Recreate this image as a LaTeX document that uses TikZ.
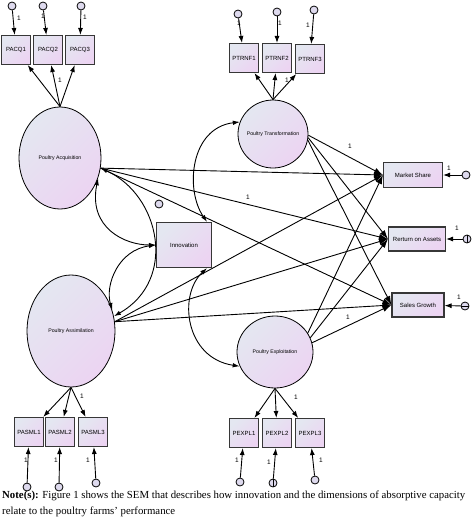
\documentclass[tikz,border=0pt]{standalone}
\usepackage{fontspec}
\setmainfont{Liberation Serif}
\newfontfamily\semfont{Liberation Sans}
\usepackage{tikz}
\usetikzlibrary{arrows.meta,shapes.geometric,positioning}
\definecolor{semtop}{RGB}{228,231,241}
\definecolor{sembot}{RGB}{236,212,242}
\definecolor{errfill}{RGB}{222,218,238}
\definecolor{boxline}{RGB}{55,55,55}

\begin{document}
\begin{tikzpicture}[x=1pt,y=-1pt]
\tikzset{
    latent/.style={
       ellipse, draw=black, line width=0.8pt,
       top color=semtop, bottom color=sembot, shading angle=45,
       inner sep=0pt
    },
    latlabel/.style={font=\semfont\fontsize{5.2}{6}\selectfont, inner sep=0pt},
    observed/.style={
       rectangle, draw=boxline, line width=1.1pt,
       top color=semtop, bottom color=sembot, shading angle=45,
       inner sep=0pt, font=\semfont\fontsize{6}{7}\selectfont
    },
    indic/.style={observed, minimum width=29pt, minimum height=29pt},
    errc/.style={circle, draw=black, line width=0.8pt, fill=errfill,
       minimum size=8pt, inner sep=0pt},
    one/.style={font=\semfont\fontsize{6.5}{7}\selectfont, inner sep=0pt},
    reg/.style={line width=0.9pt, -{Latex[length=7pt,width=5pt]}},
    bigreg/.style={line width=0.9pt, -{Latex[length=9pt,width=6pt]}},
    cov/.style={line width=0.9pt, {Latex[length=7pt,width=4.5pt]}-{Latex[length=7pt,width=4.5pt]}}
}
\useasboundingbox (0,0) rectangle (474,523);
%
% acquisition block
\node[errc] (ea1) at (12,6) {};
\node[errc] (ea2) at (43,6) {};
\node[errc] (ea3) at (81,6) {};
\node[indic] (pacq1) at (16,50) {PACQ1};
\node[indic] (pacq2) at (48,50) {PACQ2};
\node[indic] (pacq3) at (80,50) {PACQ3};
\node[latent, minimum width=82pt, minimum height=102pt,
      label={[latlabel]center:Poultry Acquisition}] (acq) at (60,158) {};

% assimilation block
\node[latent, minimum width=88pt, minimum height=112pt,
      label={[latlabel]center:Poultry Assimilation}] (asm) at (71,331) {};
\node[indic] (pasml1) at (29,432) {PASML1};
\node[indic] (pasml2) at (60,432) {PASML2};
\node[indic] (pasml3) at (93,432) {PASML3};
\node[errc] (es1) at (27,487) {};
\node[errc] (es2) at (59,487) {};
\node[errc] (es3) at (96,483) {};

% transformation block
\node[errc] (et1) at (238,14) {};
\node[errc] (et2) at (277,12) {};
\node[errc] (et3) at (314,10) {};
\node[indic] (ptrnf1) at (244,58) {PTRNF1};
\node[indic] (ptrnf2) at (277,58) {PTRNF2};
\node[indic] (ptrnf3) at (310,59) {PTRNF3};
\node[latent, minimum width=70pt, minimum height=68pt,
      label={[latlabel]center:Poultry Transformation}] (trn) at (273,134) {};

% exploitation block
\node[latent, minimum width=76pt, minimum height=72pt,
      label={[latlabel]center:Poultry Exploitation}] (expl) at (275,352) {};
\node[indic] (pexpl1) at (244,433) {PEXPL1};
\node[indic] (pexpl2) at (277,433) {PEXPL2};
\node[indic] (pexpl3) at (310,433) {PEXPL3};
\node[errc] (ee1) at (240,482) {};
\node[errc] (ee2) at (273,483) {};
\node[errc] (ee3) at (315,480) {};

% innovation
\node[observed, minimum width=55pt, minimum height=45pt] (inno) at (184,245) {Innovation};
\node[errc] (ei) at (159,204) {};

% performance
\node[observed, minimum width=59pt, minimum height=25pt] (ms) at (413,175) {Market Share};
\node[observed, minimum width=57pt, minimum height=24pt] (roa) at (417,239) {Rerturn on Assets};
\node[observed, minimum width=52pt, minimum height=24pt] (sg) at (418,305) {Sales Growth};
\node[errc] (ems) at (466,175) {};
\node[errc] (eroa) at (467,239) {};
\node[errc] (esg) at (465,306) {};
\draw[line width=0.7pt] (eroa.north) -- (eroa.south);
\draw[line width=0.7pt] (esg.west) -- (esg.east);
\draw[line width=0.7pt] (ee2.north) -- (ee2.south);

% measurement arrows
\draw[reg] (ea1) -- (pacq1);
\draw[reg] (ea2) -- (pacq2);
\draw[reg] (ea3) -- (pacq3);
\draw[reg] (acq.north) -- (pacq1);
\draw[reg] (acq.north) -- (pacq2);
\draw[reg] (acq.north) -- (pacq3);
\draw[reg] (asm.south) -- (pasml1);
\draw[reg] (asm.south) -- (pasml2);
\draw[reg] (asm.south) -- (pasml3);
\draw[reg] (es1) -- (pasml1);
\draw[reg] (es2) -- (pasml2);
\draw[reg] (es3) -- (pasml3);
\draw[reg] (et1) -- (ptrnf1);
\draw[reg] (et2) -- (ptrnf2);
\draw[reg] (et3) -- (ptrnf3);
\draw[reg] (trn.north) -- (ptrnf1);
\draw[reg] (trn.north) -- (ptrnf2);
\draw[reg] (trn.north) -- (ptrnf3);
\draw[reg] (expl.south) -- (pexpl1);
\draw[reg] (expl.south) -- (pexpl2);
\draw[reg] (expl.south) -- (pexpl3);
\draw[reg] (ee1) -- (pexpl1);
\draw[reg] (ee2) -- (pexpl2);
\draw[reg] (ee3) -- (pexpl3);
\draw[reg] (ems) -- (ms);
\draw[reg] (eroa) -- (roa);
\draw[reg] (esg) -- (sg);

% structural paths
\draw[bigreg] (acq.-14) -- (ms.west);
\draw[bigreg] (acq.-14) -- (roa.west);
\draw[bigreg] (acq.-14) -- (sg.west);
\draw[bigreg] (asm.12) -- (ms.west);
\draw[bigreg] (asm.12) -- (roa.west);
\draw[bigreg] (asm.12) -- (sg.west);
\draw[bigreg] (trn.-2) -- (ms.west);
\draw[bigreg] (trn.-6) -- (roa.west);
\draw[bigreg] (trn.-10) -- (sg.west);
\draw[bigreg] (expl.30) -- (ms.west);
\draw[bigreg] (expl.22) -- (roa.west);
\draw[bigreg] (expl.14) -- (sg.west);

% covariances
\draw[cov] (acq.-28) .. controls (88,228) and (125,245) .. (inno.west);
\draw[cov] (acq.-14) .. controls (160,195) and (178,280) .. (asm.19);
\draw[cov] (inno.west) .. controls (118,250) and (105,285) .. (asm.27);
\draw[cov] ([xshift=-5pt]inno.north east) .. controls (185,190) and (190,128) .. (trn.160);
\draw[cov] ([xshift=-5pt]inno.south east) .. controls (178,295) and (185,358) .. (expl.202);

% fixed loadings
\node[one] (l1) at (19,18) {1};
\node[one] (l2) at (43,16) {1};
\node[one] (l3) at (85,17) {1};
\node[one] (l4) at (60,80) {1};
\node[one] (l5) at (239,23) {1};
\node[one] (l6) at (280,23) {1};
\node[one] (l7) at (308,25) {1};
\node[one] (l8) at (287,80) {1};
\node[one] (l9) at (350,146) {1};
\node[one] (l10) at (248,197) {1};
\node[one] (l11) at (449,168) {1};
\node[one] (l12) at (457,228) {1};
\node[one] (l13) at (459,297) {1};
\node[one] (l14) at (348,317) {1};
\node[one] (l15) at (296,397) {1};
\node[one] (l16) at (82,396) {1};
\node[one] (l17) at (26,460) {1};
\node[one] (l18) at (56,460) {1};
\node[one] (l19) at (88,460) {1};
\node[one] (l20) at (237,460) {1};
\node[one] (l21) at (269,462) {1};
\node[one] (l22) at (321,460) {1};

% caption
\node[anchor=north west, align=left, inner sep=0pt,
      font=\fontsize{10.8}{16}\selectfont] (note) at (2,491)
  {\textbf{Note(s):} Figure 1 shows the SEM that describes how innovation and the dimensions of absorptive capacity\\
   relate to the poultry farms' performance};
\end{tikzpicture}
\end{document}
